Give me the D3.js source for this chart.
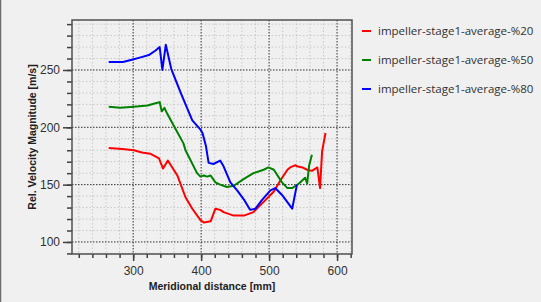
<!DOCTYPE html>
<html>
<head>
<meta charset="utf-8">
<script src="https://cdn.jsdelivr.net/npm/d3@7"></script>
<style>
  body { margin: 0; background: #f0f0f0; }
  svg { display: block; }
</style>
</head>
<body>
<div id="chart"></div>
<script>
// values
var seriesNames = ["impeller-stage1-average-%20", "impeller-stage1-average-%50", "impeller-stage1-average-%80"];
var seriesColors = ["#ff0000", "#008000", "#0000ff"];

var redX = [264, 284, 301, 313, 325, 338, 344, 351, 365, 377, 387, 399, 404, 414, 421, 428, 433, 448, 463, 477, 492, 507, 517, 527, 531, 539, 541, 549, 556, 563, 571, 575, 578, 583];
var redY = [182, 181, 180, 178, 177, 173, 164, 171, 158, 139, 129, 119, 117, 118, 129, 128, 126, 123, 123, 126, 135, 144, 154, 163, 165, 167, 166, 165, 163, 162, 165, 147, 179, 195];

var greenX = [264, 281, 301, 321, 333, 339, 342, 346, 350, 362, 374, 377, 394, 399, 404, 409, 414, 421, 428, 438, 448, 463, 477, 492, 499, 507, 519, 527, 534, 544, 553, 556, 559, 563];
var greenY = [218, 217, 218, 219, 221, 222, 214, 217, 212, 199, 186, 180, 160, 157, 158, 157, 158, 152, 150, 148, 149, 155, 160, 163, 165, 163, 152, 147, 147, 151, 156, 151, 167, 176];

var blueX = [264, 285, 298, 311, 323, 333, 339, 343, 348, 356, 370, 387, 399, 402, 407, 411, 418, 428, 433, 443, 453, 463, 472, 480, 490, 502, 509, 519, 534, 541];
var blueY = [257, 257, 259, 261, 263, 267, 270, 250, 272, 251, 230, 206, 198, 195, 184, 169, 168, 171, 166, 152, 145, 137, 128, 129, 137, 145, 147, 141, 129, 150];

var xTicks = [300, 400, 500, 600];
var yTicks = [100, 150, 200, 250];

var W = 541, H = 302;
var margin = {top: 20, right: 189, bottom: 48, left: 72},
    width = W - margin.left - margin.right,
    height = H - margin.top - margin.bottom;

var svg = d3.select("#chart")
    .append("svg")
    .attr("width", W)
    .attr("height", H);

svg.append("rect").attr("width", W).attr("height", H).attr("fill", "#f0f0f0");
svg.append("line").attr("x1", 0.5).attr("x2", 0.5).attr("y1", 0).attr("y2", H)
    .attr("stroke", "#6e6e6e").attr("stroke-width", 1.5);

var g = svg.append("g")
    .attr("transform", "translate(" + margin.left + "," + margin.top + ")");

var x = d3.scaleLinear().domain([210, 622]).range([0, width]);
var y = d3.scaleLinear().domain([89.5, 293.6]).range([height, 0]);

var xMinor = d3.range(220, 621, 20);
var yMinor = d3.range(90, 291, 10);

// minor grid
g.append("g").selectAll("line").data(xMinor.filter(function (d) { return d % 100 !== 0; }))
    .enter().append("line")
    .attr("x1", function (d) { return x(d); }).attr("x2", function (d) { return x(d); })
    .attr("y1", 0).attr("y2", height)
    .attr("stroke", "#c8c8c8").attr("stroke-dasharray", "1.5,2");
g.append("g").selectAll("line").data(yMinor.filter(function (d) { return d % 50 !== 0; }))
    .enter().append("line")
    .attr("y1", function (d) { return y(d); }).attr("y2", function (d) { return y(d); })
    .attr("x1", 0).attr("x2", width)
    .attr("stroke", "#c8c8c8").attr("stroke-dasharray", "1.5,2");

// major grid
g.append("g").selectAll("line").data(xTicks)
    .enter().append("line")
    .attr("x1", function (d) { return x(d); }).attr("x2", function (d) { return x(d); })
    .attr("y1", 0).attr("y2", height)
    .attr("stroke", "#303030").attr("stroke-dasharray", "1.5,1.5");
g.append("g").selectAll("line").data(yTicks)
    .enter().append("line")
    .attr("y1", function (d) { return y(d); }).attr("y2", function (d) { return y(d); })
    .attr("x1", 0).attr("x2", width)
    .attr("stroke", "#303030").attr("stroke-dasharray", "1.5,1.5");

// axes: minor ticks then major ticks with labels
g.append("g")
    .attr("transform", "translate(0," + height + ")")
    .call(d3.axisBottom(x).tickValues(xMinor).tickSize(4).tickFormat(""))
    .call(function (a) { a.select(".domain").remove(); a.selectAll("line").attr("stroke", "#404040").attr("stroke-width", 1.5); });
g.append("g")
    .attr("transform", "translate(0," + height + ")")
    .call(d3.axisBottom(x).tickValues(xTicks).tickSize(7).tickPadding(5).tickFormat(d3.format("d")))
    .call(function (a) {
        a.select(".domain").remove();
        a.selectAll("line").attr("stroke", "#404040").attr("stroke-width", 1.5);
        a.selectAll("text").attr("fill", "#303030").attr("font-size", 12).attr("font-family", "Liberation Sans, Arial, sans-serif");
    });

g.append("g")
    .call(d3.axisLeft(y).tickValues(yMinor).tickSize(5).tickFormat(""))
    .call(function (a) { a.select(".domain").remove(); a.selectAll("line").attr("stroke", "#404040").attr("stroke-width", 1.5); });
g.append("g")
    .call(d3.axisLeft(y).tickValues(yTicks).tickSize(9).tickPadding(3).tickFormat(d3.format("d")))
    .call(function (a) {
        a.select(".domain").remove();
        a.selectAll("line").attr("stroke", "#404040").attr("stroke-width", 1.5);
        a.selectAll("text").attr("fill", "#303030").attr("font-size", 12).attr("font-family", "Liberation Sans, Arial, sans-serif");
    });

// frame
g.append("rect")
    .attr("x", 0).attr("y", 0).attr("width", width).attr("height", height)
    .attr("fill", "none").attr("stroke", "#505050").attr("stroke-width", 1.5);

// series
var series = [
    {xs: redX, ys: redY},
    {xs: greenX, ys: greenY},
    {xs: blueX, ys: blueY}
];
var line = d3.line()
    .x(function (d) { return x(d[0]); })
    .y(function (d) { return y(d[1]); });

series.forEach(function (s, i) {
    g.append("path")
        .datum(d3.zip(s.xs, s.ys))
        .attr("d", line)
        .attr("fill", "none")
        .attr("stroke", seriesColors[i])
        .attr("stroke-width", 2)
        .attr("stroke-linejoin", "round");
});

// axis titles
svg.append("text")
    .attr("transform", "translate(36," + (margin.top + height / 2) + ") rotate(-90)")
    .attr("text-anchor", "middle")
    .attr("font-size", 10.5)
    .attr("font-weight", "bold")
    .attr("font-family", "Liberation Sans, Arial, sans-serif")
    .attr("fill", "#202020")
    .text("Rel. Velocity Magnitude [m/s]");

svg.append("text")
    .attr("x", 212).attr("y", 290)
    .attr("text-anchor", "middle")
    .attr("font-size", 10.5)
    .attr("font-weight", "bold")
    .attr("font-family", "Liberation Sans, Arial, sans-serif")
    .attr("fill", "#202020")
    .text("Meridional distance [mm]");

// legend
var legend = svg.append("g").attr("transform", "translate(362,31)");
seriesNames.forEach(function (name, i) {
    var row = legend.append("g").attr("transform", "translate(0," + (i * 29) + ")");
    row.append("line").attr("x1", 0).attr("x2", 9).attr("y1", 0).attr("y2", 0)
        .attr("stroke", seriesColors[i]).attr("stroke-width", 2);
    row.append("text").attr("x", 16).attr("y", 4)
        .attr("font-size", 11.5)
        .attr("font-family", "Open Sans, sans-serif")
        .attr("fill", "#303030")
        .text(name);
});
</script>
</body>
</html>
